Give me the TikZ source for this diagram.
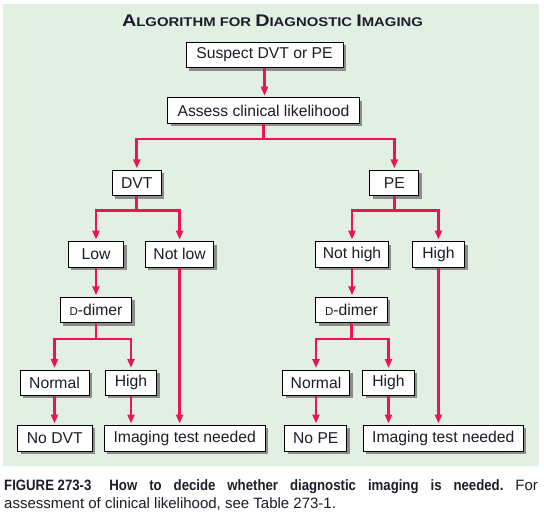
\documentclass[tikz,border=0pt]{standalone}
\usepackage{fontspec}
\setmainfont{Liberation Sans}
\newfontfamily\titlefont{Liberation Sans}[FakeStretch=1.18]
\newfontfamily\capcond{Liberation Sans}[FakeStretch=0.88]
\usetikzlibrary{arrows.meta,calc,shadows}
\definecolor{panelgreen}{RGB}{226,240,227}
\definecolor{arrred}{RGB}{233,22,80}
\definecolor{shadowgray}{RGB}{140,140,140}
\definecolor{inkc}{RGB}{30,28,40}
\newcommand\tbig[1]{{\fontsize{16.8}{18}\selectfont #1}}
\newcommand\tsmall[1]{{\fontsize{12.6}{14}\selectfont #1}}
\newcommand\scD{{\fontsize{11.5}{12}\selectfont D}}
\begin{document}
\begin{tikzpicture}[x=1pt,y=-1pt,
  box/.style={draw=black,line width=0.9pt,fill=white,minimum height=25.5pt,
    inner sep=0pt,font=\fontsize{15.7}{18}\selectfont,text=inkc,
    general shadow={fill=shadowgray,shadow xshift=3pt,shadow yshift=-3pt}},
  ln/.style={draw=arrred,line width=2.8pt,line join=miter},
  arr/.style={ln,-{Triangle[length=9pt,width=7pt]},shorten >=1.5pt}]
\useasboundingbox (0,0) rectangle (544,527);
\fill[white] (0,0) rectangle (544,527);
\fill[panelgreen] (3,4) rectangle (539,465.7);
% title
\node[anchor=base,inner sep=0pt,text=inkc,font=\titlefont\bfseries] (title) at (272.5,27)
  {\tbig{A}\tsmall{LGORITHM FOR }\tbig{D}\tsmall{IAGNOSTIC }\tbig{I}\tsmall{MAGING}};
% boxes
\node[box,minimum width=157pt] (sus) at (264.5,55) {Suspect DVT or PE};
\node[box,minimum width=191.6pt] (ass) at (263.5,110.4) {Assess clinical likelihood};
\node[box,minimum width=49pt] (dvt) at (136.8,183) {DVT};
\node[box,minimum width=49pt] (pe) at (394.3,183) {PE};
\node[box,minimum width=55.4pt] (low) at (96,254.3) {Low};
\node[box,minimum width=68.4pt] (notlow) at (179.6,254.3) {Not low};
\node[box,minimum width=72.4pt] (nothigh) at (352,254.3) {Not high};
\node[box,minimum width=52.4pt] (highpe) at (438.4,254.3) {High};
\node[box,minimum width=71.4pt] (dd1) at (96,310) {\scD-dimer};
\node[box,minimum width=71.4pt] (dd2) at (351.5,310) {\scD-dimer};
\node[box,minimum width=69pt] (norm1) at (54.5,382.7) {Normal};
\node[box,minimum width=51.3pt] (high1) at (131,382.7) {High};
\node[box,minimum width=67pt] (norm2) at (316,382.7) {Normal};
\node[box,minimum width=51.4pt] (high2) at (388.5,382.7) {High};
\node[box,minimum width=74.4pt] (nodvt) at (54.8,438.2) {No DVT};
\node[box,minimum width=160.7pt] (img1) at (184.7,438.2) {Imaging test needed};
\node[box,minimum width=62pt] (nope) at (315.8,438.2) {No PE};
\node[box,minimum width=160pt] (img2) at (443.3,438.2) {Imaging test needed};
% connectors
\draw[arr] (sus.south) -- (sus.south |- ass.north);
\draw[ln] (ass.south) -- (ass.south |- 0,139);
\draw[arr] (ass.south |- 0,139) -| (dvt.north);
\draw[arr] (ass.south |- 0,139) -| (pe.north);
\draw[ln] (dvt.south) -- (dvt.south |- 0,210.7);
\draw[arr] (dvt.south |- 0,210.7) -| (low.north);
\draw[arr] (dvt.south |- 0,210.7) -| (notlow.north);
\draw[ln] (pe.south) -- (pe.south |- 0,210.7);
\draw[arr] (pe.south |- 0,210.7) -| (nothigh.north);
\draw[arr] (pe.south |- 0,210.7) -| (highpe.north);
\draw[arr] (low.south) -- (low.south |- dd1.north);
\draw[arr] (nothigh.south) -- (nothigh.south |- dd2.north);
\draw[ln] (dd1.south) -- (dd1.south |- 0,339);
\draw[arr] (dd1.south |- 0,339) -| (norm1.north);
\draw[arr] (dd1.south |- 0,339) -| (high1.north);
\draw[ln] (dd2.south) -- (dd2.south |- 0,339);
\draw[arr] (dd2.south |- 0,339) -| (norm2.north);
\draw[arr] (dd2.south |- 0,339) -| (high2.north);
\draw[arr] (norm1.south) -- (norm1.south |- nodvt.north);
\draw[arr] (high1.south) -- (high1.south |- img1.north);
\draw[arr] (notlow.south) -- (notlow.south |- img1.north);
\draw[arr] (norm2.south) -- (norm2.south |- nope.north);
\draw[arr] (high2.south) -- (high2.south |- img2.north);
\draw[arr] (highpe.south) -- (highpe.south |- img2.north);
% caption
\node[anchor=base west,inner sep=0pt,text=inkc,font=\fontsize{15}{18.3}\selectfont] (cap) at (4,490)
  {\vtop{\baselineskip=18.3pt
   \hbox to 533.7pt{{\capcond\bfseries FIGURE 273-3}\hspace{6pt}\hfill{\capcond\bfseries How\hfill to\hfill decide\hfill whether\hfill diagnostic\hfill imaging\hfill is\hfill needed.}\hfill For}
   \hbox{assessment of clinical likelihood, see Table 273-1.}}};
\end{tikzpicture}
\end{document}
